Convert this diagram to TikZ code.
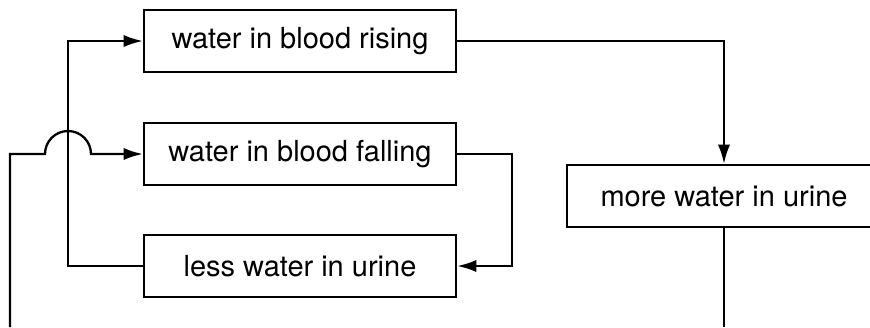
\documentclass[tikz,border=0pt]{standalone}
\usepackage{fontspec}
\setmainfont{TeX Gyre Heros}
\usetikzlibrary{arrows.meta}
\tikzset{box/.style={draw,line width=1.3pt,minimum height=1.24cm,inner sep=0pt,font=\fontsize{16.5}{20}\selectfont},
flow/.style={line width=1.3pt,-{Latex[length=11pt,width=7pt]}}}
\begin{document}
\begin{tikzpicture}
\useasboundingbox(0,0)rectangle(17.4,6.54);
\clip(0,0)rectangle(17.4,6.54);
\node[box,minimum width=6.24cm](rise)at(6,5.72){water in blood rising};
\node[box,minimum width=6.24cm](fall)at(6,3.46){water in blood falling};
\node[box,minimum width=6.24cm](less)at(6,1.22){less water in urine};
\node[box,minimum width=6.28cm](more)at(14.48,2.62){more water in urine};
\coordinate(inA)at(0.2,0);
\coordinate(outB)at(more.south|-inA);
\draw[flow](less.west)-|(1.36,5.72)--(rise.west);
\draw[flow](inA)|-(0.9,3.46)arc[start angle=180,end angle=0,radius=0.46]--(fall.west);
\draw[flow](rise.east)-|(more.north);
\draw[flow](fall.east)-|(10.24,1.22)--(less.east);
\draw[line width=1.3pt](more.south)--(outB);
\end{tikzpicture}
\end{document}
